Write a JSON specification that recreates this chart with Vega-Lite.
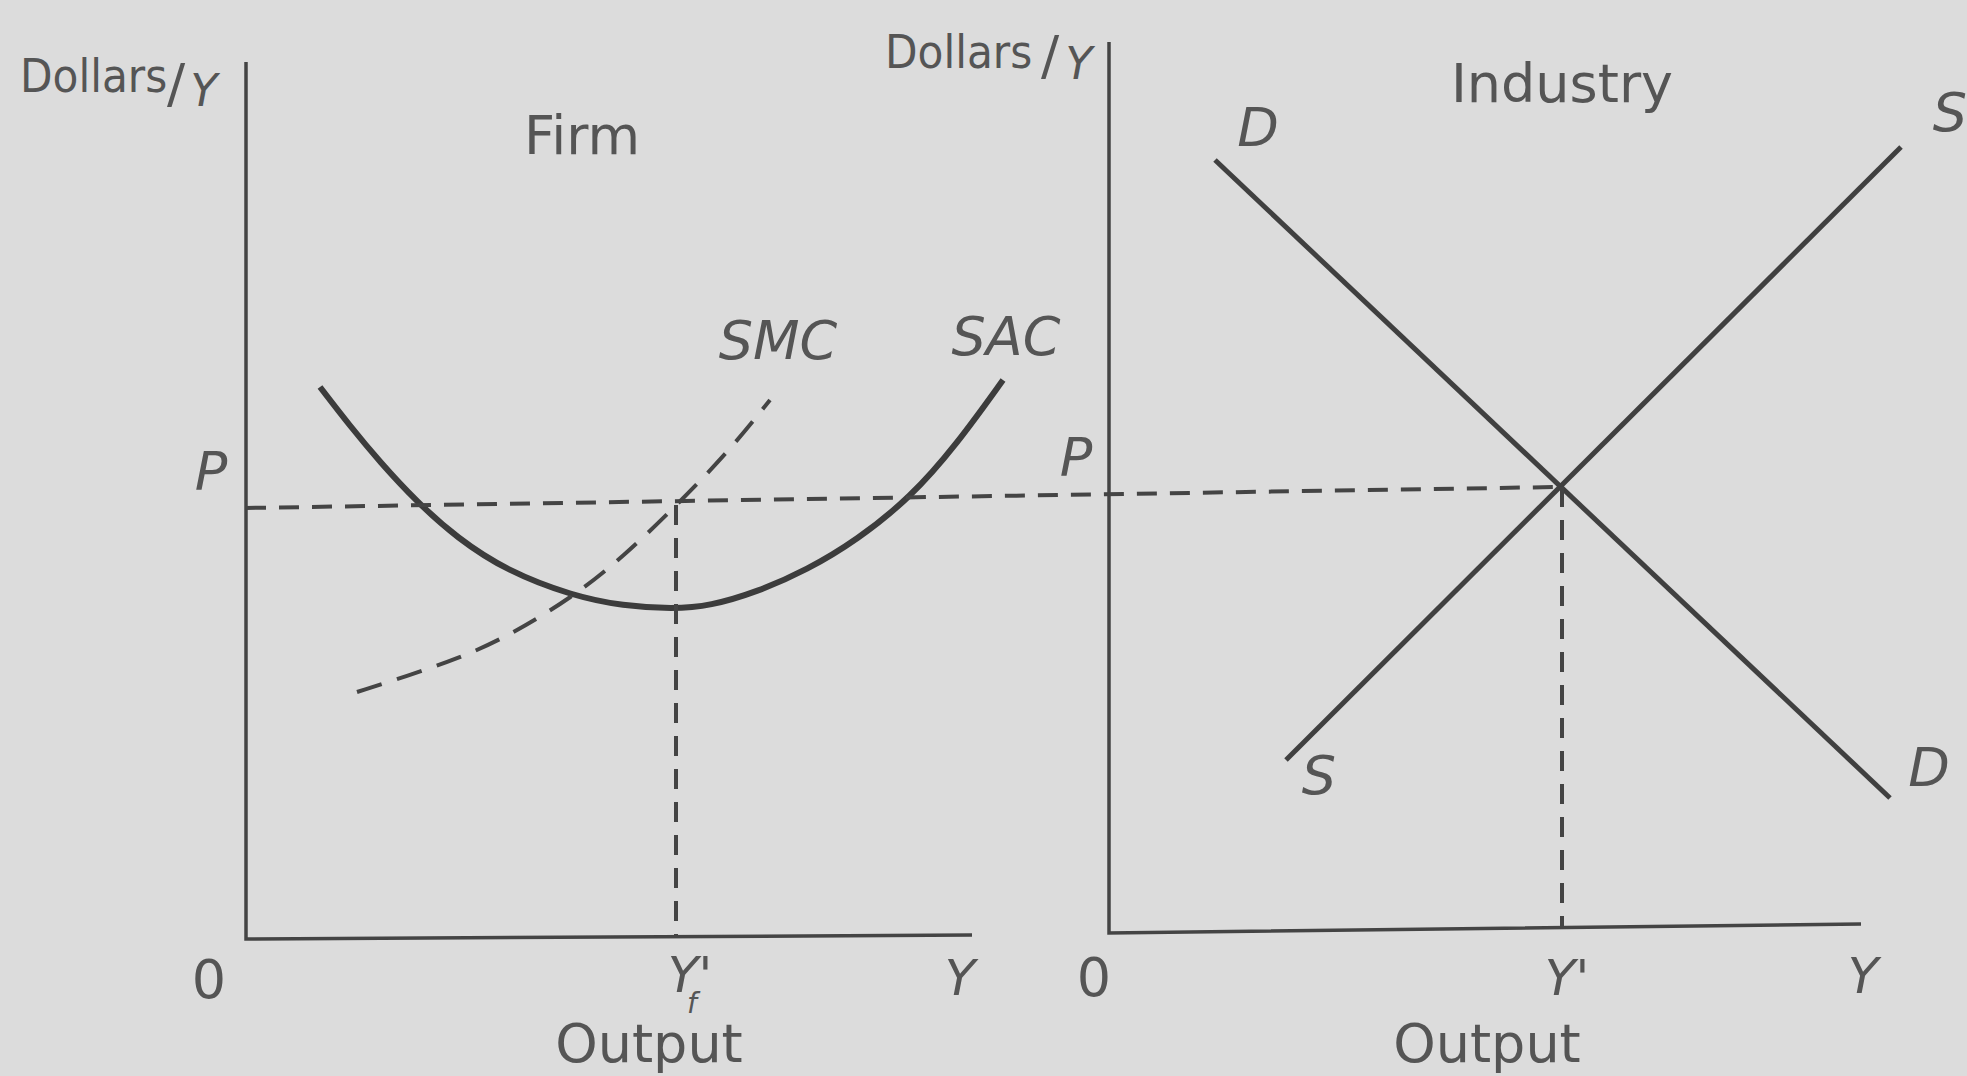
{
  "$schema": "https://vega.github.io/schema/vega-lite/v6.json",
  "width": 1967,
  "height": 1076,
  "autosize": {"type": "fit", "contains": "padding"},
  "padding": 0,
  "background": "#dcdcdc",
  "config": {"view": {"stroke": null}},
  "datasets": {
    "lines": [
      {"series": "firm-axes", "role": "axis", "order": 1, "x": 24.6, "y": 101.4},
      {"series": "firm-axes", "role": "axis", "order": 2, "x": 24.6, "y": 13.7},
      {"series": "firm-axes", "role": "axis", "order": 3, "x": 97.2, "y": 14.1},
      {"series": "ind-axes", "role": "axis", "order": 1, "x": 110.9, "y": 103.4},
      {"series": "ind-axes", "role": "axis", "order": 2, "x": 110.9, "y": 14.3},
      {"series": "ind-axes", "role": "axis", "order": 3, "x": 186.1, "y": 15.2},
      {"series": "D", "role": "sd", "order": 1, "x": 121.5, "y": 91.6},
      {"series": "D", "role": "sd", "order": 2, "x": 189.0, "y": 27.8},
      {"series": "S", "role": "sd", "order": 1, "x": 128.6, "y": 31.6},
      {"series": "S", "role": "sd", "order": 2, "x": 190.1, "y": 92.9},
      {"series": "SAC", "role": "sac", "order": 1, "x": 32.0, "y": 68.9},
      {"series": "SAC", "role": "sac", "order": 2, "x": 35.0, "y": 65.0},
      {"series": "SAC", "role": "sac", "order": 3, "x": 38.0, "y": 61.4},
      {"series": "SAC", "role": "sac", "order": 4, "x": 41.7, "y": 57.4},
      {"series": "SAC", "role": "sac", "order": 5, "x": 45.7, "y": 53.8},
      {"series": "SAC", "role": "sac", "order": 6, "x": 50.7, "y": 50.5},
      {"series": "SAC", "role": "sac", "order": 7, "x": 57.3, "y": 48.0},
      {"series": "SAC", "role": "sac", "order": 8, "x": 62.3, "y": 47.0},
      {"series": "SAC", "role": "sac", "order": 9, "x": 67.3, "y": 46.7},
      {"series": "SAC", "role": "sac", "order": 10, "x": 71.0, "y": 47.0},
      {"series": "SAC", "role": "sac", "order": 11, "x": 75.7, "y": 48.4},
      {"series": "SAC", "role": "sac", "order": 12, "x": 80.7, "y": 50.6},
      {"series": "SAC", "role": "sac", "order": 13, "x": 85.7, "y": 53.6},
      {"series": "SAC", "role": "sac", "order": 14, "x": 91.0, "y": 57.8},
      {"series": "SAC", "role": "sac", "order": 15, "x": 95.7, "y": 63.2},
      {"series": "SAC", "role": "sac", "order": 16, "x": 100.3, "y": 69.6},
      {"series": "SMC", "role": "smc", "order": 1, "x": 35.7, "y": 38.4},
      {"series": "SMC", "role": "smc", "order": 2, "x": 40.7, "y": 40.0},
      {"series": "SMC", "role": "smc", "order": 3, "x": 45.7, "y": 41.7},
      {"series": "SMC", "role": "smc", "order": 4, "x": 50.7, "y": 43.9},
      {"series": "SMC", "role": "smc", "order": 5, "x": 57.3, "y": 47.9},
      {"series": "SMC", "role": "smc", "order": 6, "x": 62.3, "y": 51.9},
      {"series": "SMC", "role": "smc", "order": 7, "x": 67.7, "y": 57.1},
      {"series": "SMC", "role": "smc", "order": 8, "x": 73.0, "y": 62.6},
      {"series": "SMC", "role": "smc", "order": 9, "x": 77.0, "y": 67.6},
      {"series": "P-line", "role": "guide", "order": 1, "x": 24.6, "y": 56.8},
      {"series": "P-line", "role": "guide", "order": 2, "x": 155.8, "y": 58.9},
      {"series": "Yf-line", "role": "guide", "order": 1, "x": 67.6, "y": 57.1},
      {"series": "Yf-line", "role": "guide", "order": 2, "x": 67.6, "y": 13.9},
      {"series": "Y-line", "role": "guide", "order": 1, "x": 156.2, "y": 58.9},
      {"series": "Y-line", "role": "guide", "order": 2, "x": 156.2, "y": 14.8}
    ],
    "labels": [
      {"text": "Dollars", "kind": "unit", "x": 2.0, "y": 98.4},
      {"text": "Dollars", "kind": "unit", "x": 88.5, "y": 100.8},
      {"text": "/", "kind": "slash", "x": 17.6, "y": 99.0},
      {"text": "/", "kind": "slash", "x": 105.0, "y": 101.8},
      {"text": "Y", "kind": "unitvar", "x": 20.4, "y": 98.3},
      {"text": "Y", "kind": "unitvar", "x": 107.9, "y": 101.0},
      {"text": "Firm", "kind": "title", "x": 58.2, "y": 93.8},
      {"text": "Industry", "kind": "title", "x": 156.2, "y": 99.0},
      {"text": "SMC", "kind": "curve", "x": 77.8, "y": 73.3},
      {"text": "SAC", "kind": "curve", "x": 100.6, "y": 73.7},
      {"text": "P", "kind": "curve", "x": 21.1, "y": 60.2},
      {"text": "P", "kind": "curve", "x": 107.6, "y": 61.6},
      {"text": "D", "kind": "curve", "x": 125.8, "y": 94.6},
      {"text": "S", "kind": "curve", "x": 195.0, "y": 96.1},
      {"text": "S", "kind": "curve", "x": 131.9, "y": 29.8},
      {"text": "D", "kind": "curve", "x": 192.9, "y": 30.6},
      {"text": "0", "kind": "tick", "x": 20.9, "y": 9.4},
      {"text": "0", "kind": "tick", "x": 109.4, "y": 9.6},
      {"text": "Y'", "kind": "tickvar", "x": 69.0, "y": 9.9},
      {"text": "f", "kind": "sub", "x": 69.2, "y": 7.1},
      {"text": "Y", "kind": "tickvar", "x": 96.0, "y": 9.6},
      {"text": "Y'", "kind": "tickvar", "x": 156.7, "y": 9.6},
      {"text": "Y", "kind": "tickvar", "x": 186.3, "y": 9.8},
      {"text": "Output", "kind": "output", "x": 64.9, "y": 3.0},
      {"text": "Output", "kind": "output", "x": 148.7, "y": 3.0}
    ]
  },
  "encoding": {
    "x": {"field": "x", "type": "quantitative", "scale": {"domain": [0, 196.7], "nice": false, "zero": false}, "axis": null},
    "y": {"field": "y", "type": "quantitative", "scale": {"domain": [0, 107.6], "nice": false, "zero": false}, "axis": null}
  },
  "layer": [
    {
      "data": {"name": "lines"},
      "transform": [{"filter": "datum.role === 'axis'"}],
      "mark": {"type": "line", "stroke": "#444444", "strokeWidth": 3.5, "clip": true},
      "encoding": {"detail": {"field": "series"}, "order": {"field": "order"}}
    },
    {
      "data": {"name": "lines"},
      "transform": [{"filter": "datum.role === 'sd'"}],
      "mark": {"type": "line", "stroke": "#404040", "strokeWidth": 5, "clip": true},
      "encoding": {"detail": {"field": "series"}, "order": {"field": "order"}}
    },
    {
      "data": {"name": "lines"},
      "transform": [{"filter": "datum.role === 'sac'"}],
      "mark": {"type": "line", "stroke": "#3c3c3c", "strokeWidth": 6, "interpolate": "basis", "clip": true},
      "encoding": {"detail": {"field": "series"}, "order": {"field": "order"}}
    },
    {
      "data": {"name": "lines"},
      "transform": [{"filter": "datum.role === 'smc'"}],
      "mark": {"type": "line", "stroke": "#444444", "strokeWidth": 4, "strokeDash": [26, 16], "interpolate": "basis", "clip": true},
      "encoding": {"detail": {"field": "series"}, "order": {"field": "order"}}
    },
    {
      "data": {"name": "lines"},
      "transform": [{"filter": "datum.role === 'guide'"}],
      "mark": {"type": "line", "stroke": "#444444", "strokeWidth": 4, "strokeDash": [20, 13], "clip": true},
      "encoding": {"detail": {"field": "series"}, "order": {"field": "order"}}
    },
    {
      "data": {"name": "labels"},
      "transform": [{"filter": "datum.kind === 'unit'"}],
      "mark": {"type": "text", "font": "DejaVu Sans Condensed, DejaVu Sans", "fontSize": 47, "align": "left", "baseline": "alphabetic", "color": "#555555", "clip": true},
      "encoding": {"text": {"field": "text"}}
    },
    {
      "data": {"name": "labels"},
      "transform": [{"filter": "datum.kind === 'slash'"}],
      "mark": {"type": "text", "font": "DejaVu Sans", "fontSize": 54, "align": "center", "baseline": "middle", "color": "#555555", "clip": true},
      "encoding": {"text": {"field": "text"}}
    },
    {
      "data": {"name": "labels"},
      "transform": [{"filter": "datum.kind === 'unitvar'"}],
      "mark": {"type": "text", "font": "DejaVu Sans", "fontStyle": "italic", "fontSize": 44, "align": "center", "baseline": "middle", "color": "#555555", "clip": true},
      "encoding": {"text": {"field": "text"}}
    },
    {
      "data": {"name": "labels"},
      "transform": [{"filter": "datum.kind === 'title'"}],
      "mark": {"type": "text", "font": "DejaVu Sans", "fontSize": 54, "align": "center", "baseline": "middle", "color": "#555555", "clip": true},
      "encoding": {"text": {"field": "text"}}
    },
    {
      "data": {"name": "labels"},
      "transform": [{"filter": "datum.kind === 'curve'"}],
      "mark": {"type": "text", "font": "DejaVu Sans", "fontStyle": "italic", "fontSize": 54, "align": "center", "baseline": "middle", "color": "#555555", "clip": true},
      "encoding": {"text": {"field": "text"}}
    },
    {
      "data": {"name": "labels"},
      "transform": [{"filter": "datum.kind === 'tick'"}],
      "mark": {"type": "text", "font": "DejaVu Sans", "fontSize": 54, "align": "center", "baseline": "middle", "color": "#555555", "clip": true},
      "encoding": {"text": {"field": "text"}}
    },
    {
      "data": {"name": "labels"},
      "transform": [{"filter": "datum.kind === 'tickvar'"}],
      "mark": {"type": "text", "font": "DejaVu Sans", "fontStyle": "italic", "fontSize": 50, "align": "center", "baseline": "middle", "color": "#555555", "clip": true},
      "encoding": {"text": {"field": "text"}}
    },
    {
      "data": {"name": "labels"},
      "transform": [{"filter": "datum.kind === 'sub'"}],
      "mark": {"type": "text", "font": "DejaVu Sans", "fontStyle": "italic", "fontSize": 28, "align": "center", "baseline": "middle", "color": "#555555", "clip": true},
      "encoding": {"text": {"field": "text"}}
    },
    {
      "data": {"name": "labels"},
      "transform": [{"filter": "datum.kind === 'output'"}],
      "mark": {"type": "text", "font": "DejaVu Sans", "fontSize": 54, "align": "center", "baseline": "middle", "color": "#555555", "clip": true},
      "encoding": {"text": {"field": "text"}}
    }
  ]
}
